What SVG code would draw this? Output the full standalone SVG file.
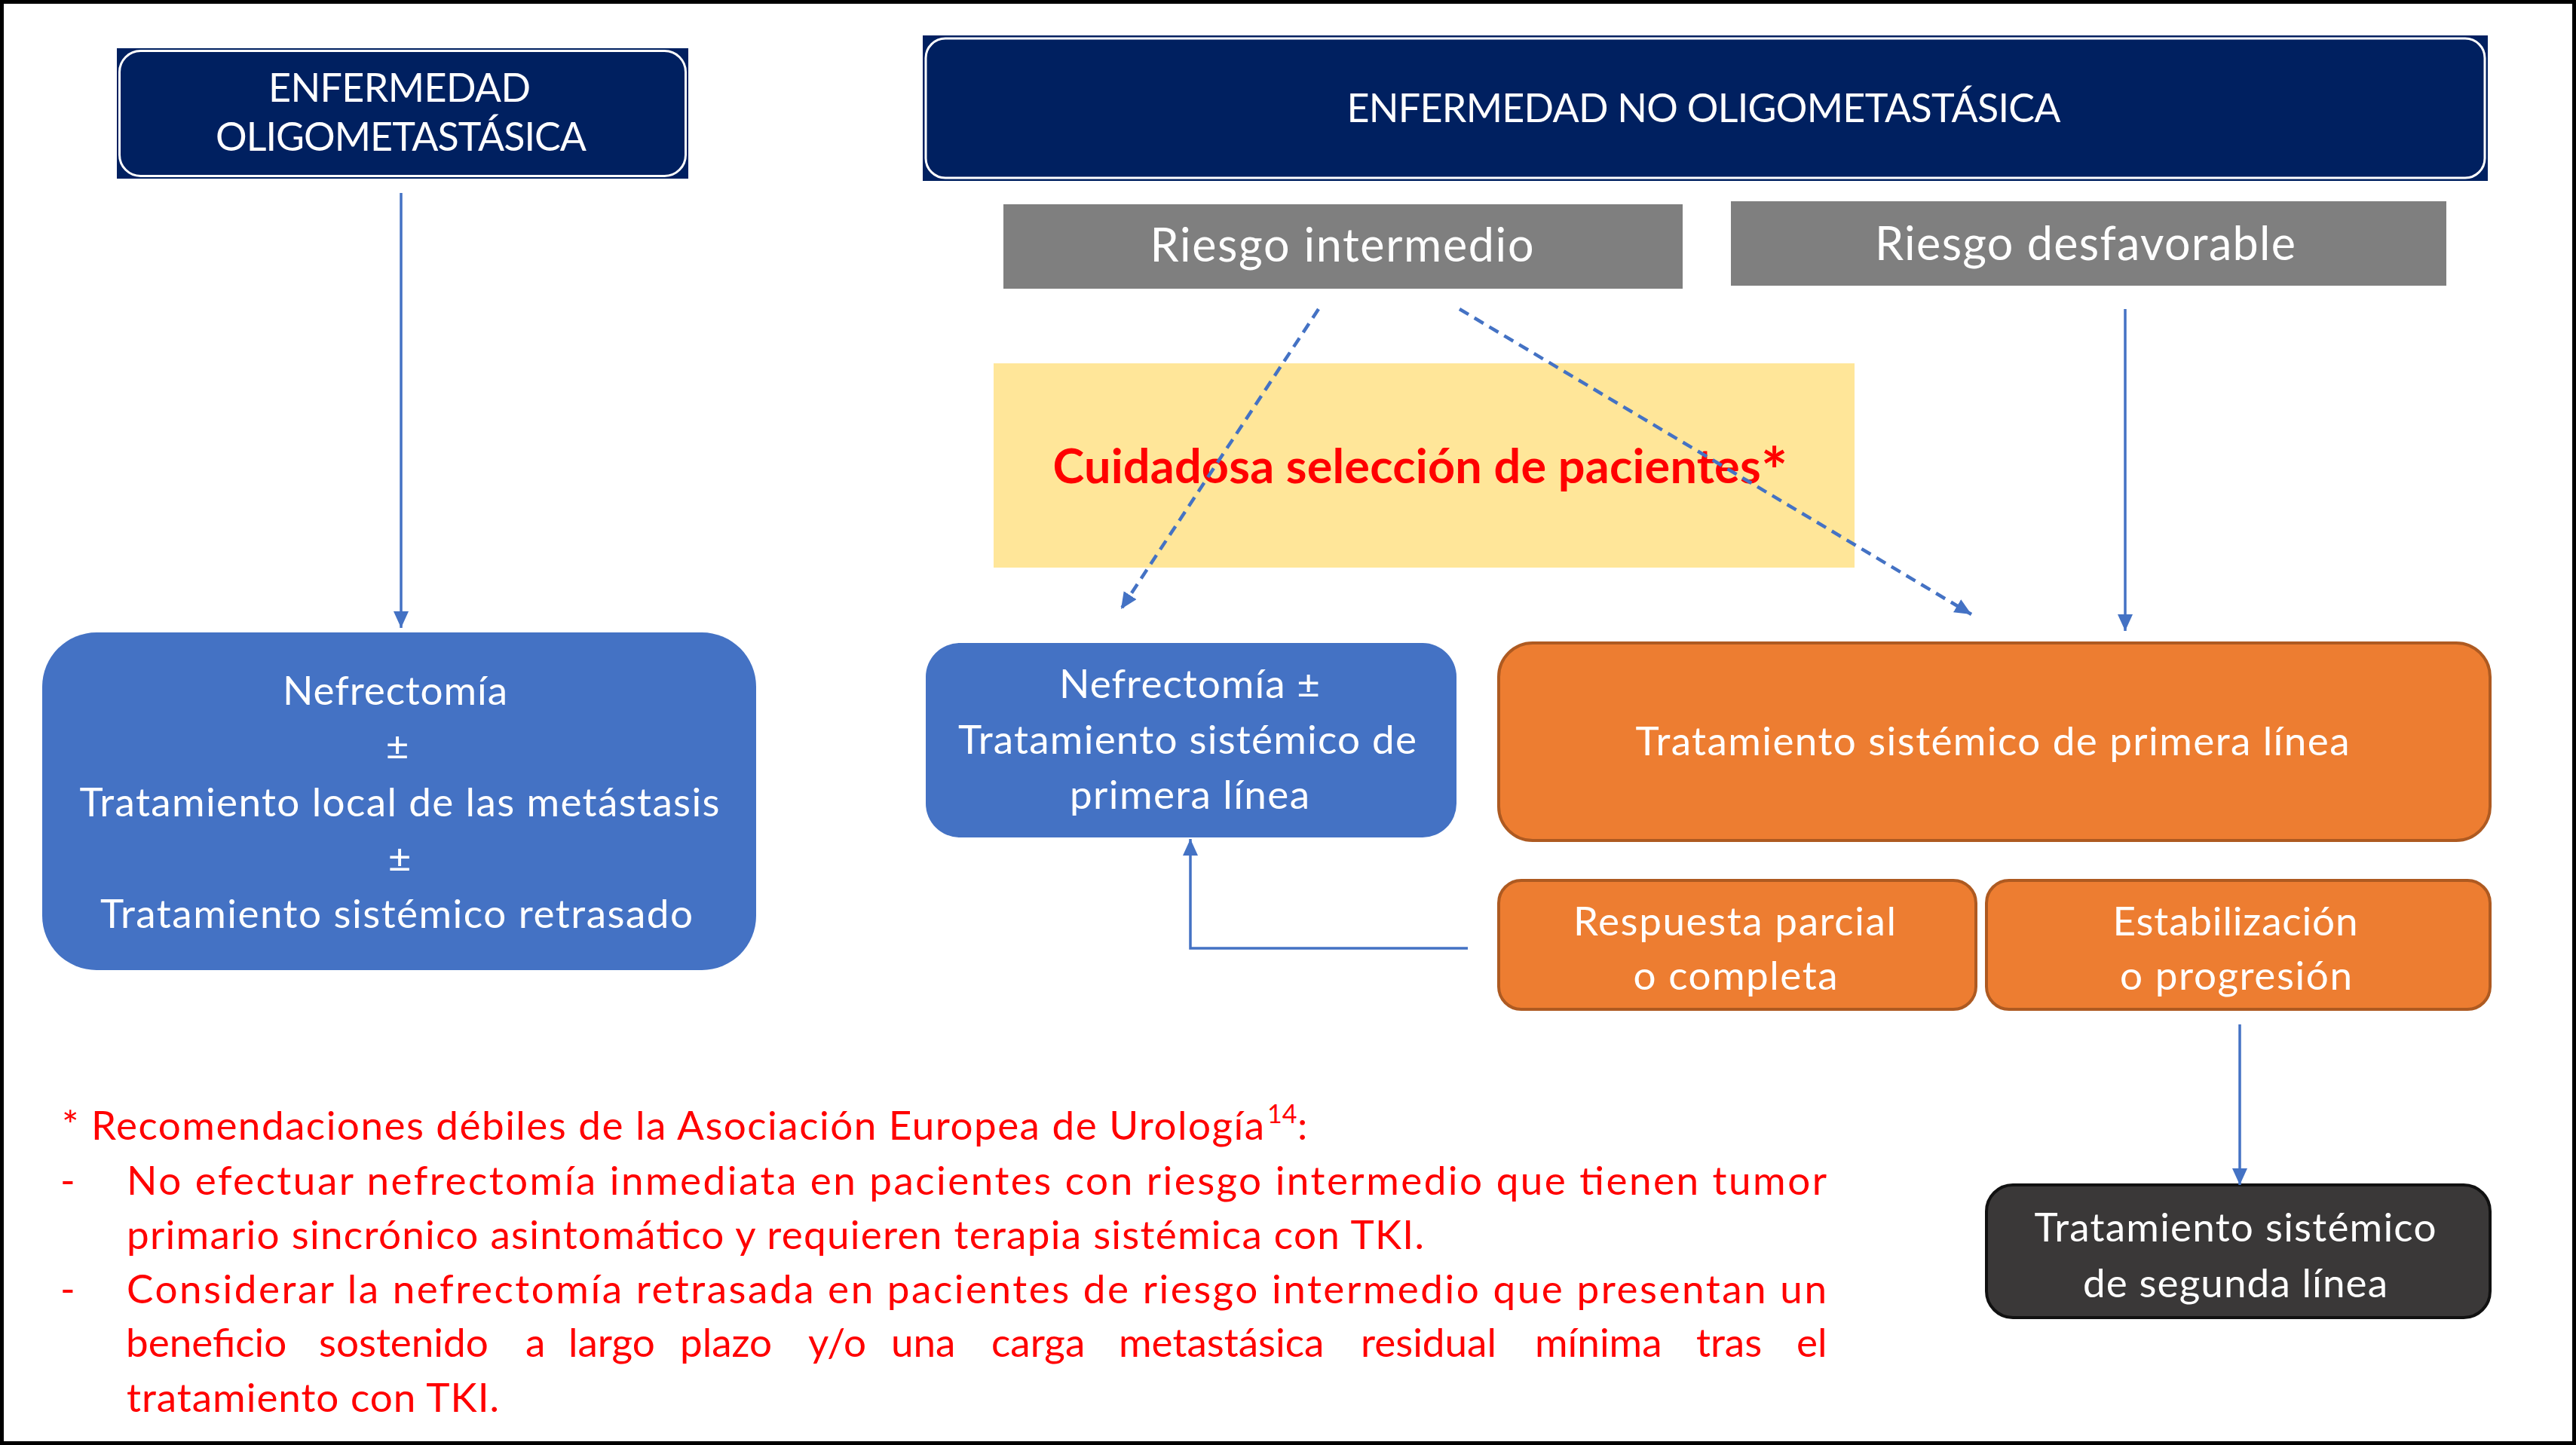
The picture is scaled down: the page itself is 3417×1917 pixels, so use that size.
<svg xmlns="http://www.w3.org/2000/svg" width="3417" height="1917" viewBox="0 0 3417 1917">
<style>
.t{font-family:Lato,'Noto Sans',sans-serif;fill:#ffffff;text-anchor:middle;font-size:53px}
.h{font-size:52px}
.r{font-size:61px}
.fn{font-family:Lato,'Noto Sans',sans-serif;fill:#ff0000;font-size:53px}
.conn{stroke:#4472c4;stroke-width:3.5;fill:none}
.dash{stroke-dasharray:14 9;stroke-width:4.5}
.navy{fill:#002060}
.blue{fill:#4472c4}
.orange{fill:#ed7d31;stroke:#ae5a21;stroke-width:4}
.gray{fill:#7f7f7f}
</style>
<defs>
<marker id="ah" markerUnits="userSpaceOnUse" markerWidth="24" markerHeight="22" refX="22" refY="10" orient="auto">
<path d="M0,0 L22,10 L0,20 z" fill="#4472c4"/>
</marker>
</defs>
<rect x="2.5" y="2.5" width="3412" height="1912" fill="#ffffff" stroke="#000000" stroke-width="5"/>

<g id="n-oligo">
<rect class="navy" x="155" y="64" width="758" height="173"/>
<rect class="navy" x="158.5" y="67.5" width="751" height="166" rx="28" stroke="#ffffff" stroke-width="3"/>
<text class="t h" x="530" y="135" textLength="348" lengthAdjust="spacing">ENFERMEDAD</text>
<text class="t h" x="532" y="200" textLength="492" lengthAdjust="spacing">OLIGOMETASTÁSICA</text>
</g>

<g id="n-no-oligo">
<rect class="navy" x="1224" y="47" width="2076" height="193"/>
<rect class="navy" x="1228" y="51" width="2068" height="185" rx="26" stroke="#ffffff" stroke-width="3"/>
<text class="t h" x="2260" y="162" textLength="947" lengthAdjust="spacing">ENFERMEDAD NO OLIGOMETASTÁSICA</text>
</g>

<g id="n-intermedio">
<rect class="gray" x="1331" y="271" width="901" height="112"/>
<text class="t r" x="1780" y="347" textLength="509" lengthAdjust="spacing">Riesgo intermedio</text>
</g>

<g id="n-desfavorable">
<rect class="gray" x="2296" y="267" width="949" height="112"/>
<text class="t r" x="2766" y="345" textLength="558" lengthAdjust="spacing">Riesgo desfavorable</text>
</g>

<g id="n-seleccion">
<rect x="1318" y="482" width="1142" height="271" fill="#ffe699"/>
<text x="1884" y="641" font-family="Lato,'Noto Sans',sans-serif" font-weight="bold" font-size="63" fill="#ff0000" text-anchor="middle" textLength="975" lengthAdjust="spacing">Cuidadosa selección de pacientes<tspan font-size="84" dy="14">*</tspan></text>
</g>

<g id="n-nefrectomia-local">
<rect class="blue" x="56" y="839" width="947" height="448" rx="72"/>
<text class="t" x="524" y="935" textLength="298" lengthAdjust="spacing">Nefrectomía</text>
<text class="t" x="527" y="1008">±</text>
<text class="t" x="530" y="1083" textLength="849" lengthAdjust="spacing">Tratamiento local de las metástasis</text>
<text class="t" x="530" y="1157">±</text>
<text class="t" x="526" y="1231" textLength="786" lengthAdjust="spacing">Tratamiento sistémico retrasado</text>
</g>

<g id="n-nefrectomia-sist">
<rect class="blue" x="1228" y="853" width="704" height="258" rx="45"/>
<text class="t" x="1578" y="926" textLength="346" lengthAdjust="spacing">Nefrectomía ±</text>
<text class="t" x="1575" y="1000" textLength="608" lengthAdjust="spacing">Tratamiento sistémico de</text>
<text class="t" x="1578" y="1073" textLength="318" lengthAdjust="spacing">primera línea</text>
</g>

<g id="n-primera-linea">
<rect class="orange" x="1988" y="853" width="1315" height="262" rx="45"/>
<text class="t" x="2643" y="1002" textLength="947" lengthAdjust="spacing">Tratamiento sistémico de primera línea</text>
</g>

<g id="n-respuesta">
<rect class="orange" x="1988" y="1168" width="633" height="171" rx="30"/>
<text class="t" x="2301" y="1241" textLength="428" lengthAdjust="spacing">Respuesta parcial</text>
<text class="t" x="2302" y="1313" textLength="271" lengthAdjust="spacing">o completa</text>
</g>

<g id="n-estabilizacion">
<rect class="orange" x="2635" y="1168" width="668" height="171" rx="30"/>
<text class="t" x="2965" y="1241" textLength="325" lengthAdjust="spacing">Estabilización</text>
<text class="t" x="2966" y="1313" textLength="308" lengthAdjust="spacing">o progresión</text>
</g>

<g id="n-segunda-linea">
<rect x="2635" y="1572" width="668" height="176" rx="35" fill="#3a3838" stroke="#111111" stroke-width="4"/>
<text class="t" x="2965" y="1647" textLength="533" lengthAdjust="spacing">Tratamiento sistémico</text>
<text class="t" x="2965" y="1721" textLength="404" lengthAdjust="spacing">de segunda línea</text>
</g>

<g id="connectors">
<line class="conn" x1="532" y1="256" x2="532" y2="833" marker-end="url(#ah)"/>
<line class="conn dash" x1="1749" y1="410" x2="1487" y2="808" marker-end="url(#ah)"/>
<line class="conn dash" x1="1936" y1="410" x2="2615" y2="815" marker-end="url(#ah)"/>
<line class="conn" x1="2819" y1="410" x2="2819" y2="837" marker-end="url(#ah)"/>
<polyline class="conn" points="1947,1258 1579,1258 1579,1113" marker-end="url(#ah)"/>
<line class="conn" x1="2971" y1="1359" x2="2971" y2="1572" marker-end="url(#ah)"/>
</g>

<g id="footnote">
<text class="fn" x="82" y="1512" textLength="1595" lengthAdjust="spacing">* Recomendaciones débiles de la Asociación Europea de Urología</text>
<text class="fn"><tspan x="1681" y="1490" font-size="34">14</tspan><tspan x="1721" y="1512">:</tspan></text>
<text class="fn" x="80" y="1585">-</text>
<text class="fn" x="168" y="1585" textLength="2255" lengthAdjust="spacing">No efectuar nefrectomía inmediata en pacientes con riesgo intermedio que tienen tumor</text>
<text class="fn" x="168" y="1657" textLength="1721" lengthAdjust="spacing">primario sincrónico asintomático y requieren terapia sistémica con TKI.</text>
<text class="fn" x="80" y="1729">-</text>
<text class="fn" x="168" y="1729" textLength="2255" lengthAdjust="spacing">Considerar la nefrectomía retrasada en pacientes de riesgo intermedio que presentan un</text>
<text class="fn" y="1800"><tspan x="167">beneficio </tspan><tspan x="423">sostenido </tspan><tspan x="697">a </tspan><tspan x="754">largo </tspan><tspan x="902">plazo </tspan><tspan x="1072">y/o </tspan><tspan x="1182">una </tspan><tspan x="1315">carga </tspan><tspan x="1484">metastásica </tspan><tspan x="1805">residual </tspan><tspan x="2036">mínima </tspan><tspan x="2250">tras </tspan><tspan x="2383">el</tspan></text>
<text class="fn" x="168" y="1873" textLength="494" lengthAdjust="spacing">tratamiento con TKI.</text>
</g>
</svg>
